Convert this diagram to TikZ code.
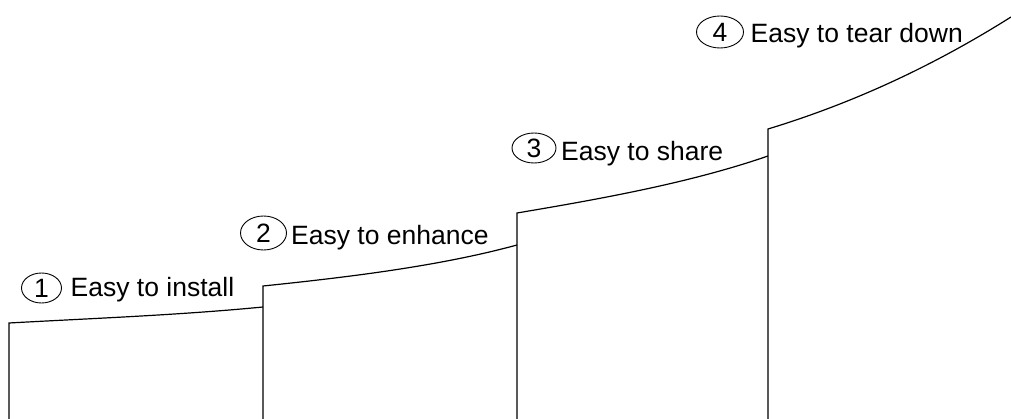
\documentclass[tikz,border=0pt]{standalone}
\usepackage{fontspec}
\setmainfont{Liberation Sans}
\usetikzlibrary{shapes.geometric}
\begin{document}
\begin{tikzpicture}[x=1pt,y=-1pt,
  stair/.style={line width=1.2pt,line join=miter},
  num/.style={draw,ellipse,line width=0.9pt,inner sep=0pt,font=\fontsize{26.5}{29}\selectfont},
  lbl/.style={anchor=base west,inner sep=0pt,font=\fontsize{26.5}{29}\selectfont}]
\useasboundingbox (0,0) rectangle (1011,419);
% stair corners
\coordinate (b1) at (9,419);
\coordinate (t1) at (9,323);
\coordinate (e1) at (263,307);
\coordinate (b2) at (263,419);
\coordinate (t2) at (263,286);
\coordinate (e2) at (517,245);
\coordinate (b3) at (517,419);
\coordinate (t3) at (517,213);
\coordinate (e3) at (768,156);
\coordinate (b4) at (768,419);
\coordinate (t4) at (768,129);
\coordinate (e4) at (1011,17);
\draw[stair] (b1) -- (t1) .. controls (100,318) and (180,315) .. (e1);
\draw[stair] (b2) -- (t2) .. controls (350,277) and (440,266) .. (e2);
\draw[stair] (b3) -- (t3) .. controls (600,199) and (690,183) .. (e3);
\draw[stair] (b4) -- (t4) .. controls (850,104) and (930,68) .. (e4);
% labels
\node[num,minimum width=40pt,minimum height=30pt] (n1) at (41.5,288) {1};
\node[lbl] (l1) at (70.5,297) {Easy to install};
\node[num,minimum width=46pt,minimum height=34pt] (n2) at (263.5,233) {2};
\node[lbl] (l2) at (291,245) {Easy to enhance};
\node[num,minimum width=44pt,minimum height=30pt] (n3) at (534,148) {3};
\node[lbl] (l3) at (561,161) {Easy to share};
\node[num,minimum width=47pt,minimum height=32pt] (n4) at (720,32) {4};
\node[lbl] (l4) at (750.5,43) {Easy to tear down};
\end{tikzpicture}
\end{document}
